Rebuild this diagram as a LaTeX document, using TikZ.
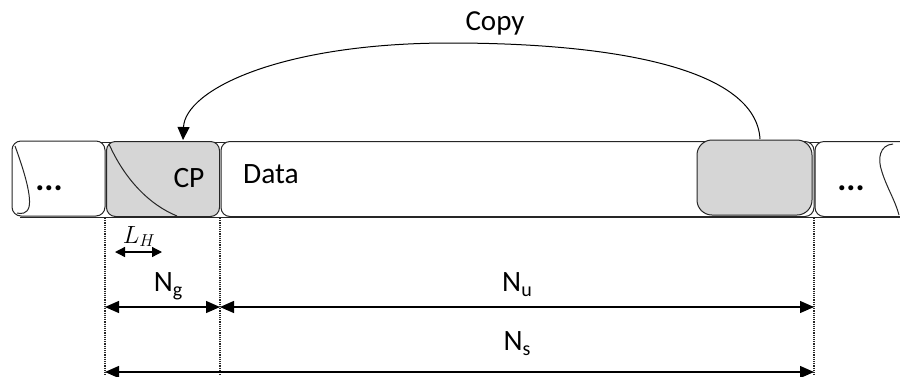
\documentclass[tikz,border=0pt]{standalone}
\usepackage{fontspec}
\setmainfont{Carlito}
\usetikzlibrary{arrows.meta}
\tikzset{
  cell/.style={draw=black!85, line width=1pt, rounded corners=9pt, inner sep=0pt, minimum height=75pt, fill=white},
  graycell/.style={cell, fill=black!16},
  dimarrow/.style={line width=1.3pt, {Triangle[length=14pt,width=12pt]}-{Triangle[length=14pt,width=12pt]}},
  smallarrow/.style={line width=1.3pt, {Triangle[length=10pt,width=10pt]}-{Triangle[length=10pt,width=10pt]}},
  guide/.style={densely dotted, line width=1.2pt, black!85},
  lbl/.style={font=\fontsize{29.5}{32}\selectfont, inner sep=0pt, anchor=base},
  dots/.style={lbl, font=\fontsize{34}{36}\selectfont\bfseries},
}
\newcommand{\subtxt}[1]{\raisebox{-5pt}{\fontsize{20}{20}\selectfont #1}}
\begin{document}
\begin{tikzpicture}[x=1pt,y=-1pt]
\useasboundingbox (0,0) rectangle (900,376);
% band lines
\draw[line width=1pt, black!85] (100,142) -- (900,142);
\draw[line width=1pt, black!85] (20,217) -- (900,217);
% cells
\node[cell, minimum width=93pt] (dl) at (58.5,178.5) {};
\node[graycell, minimum width=113pt] (cp) at (163,179) {};
\node[cell, minimum width=593pt] (data) at (517.5,179) {};
\node[cell, minimum width=96pt] (dr) at (863,179) {};
\node[graycell, minimum width=115pt, rounded corners=15pt] (rg) at (754.5,177.5) {};
% break curves and decay curve
\draw[line width=1pt, black!85] (15,146) .. controls (22,165) and (32,195) .. (29,207) .. controls (27,214) and (21,214) .. (17,213);
\draw[line width=1pt, black!85] (893,144) .. controls (880,145) and (877,158) .. (882,172) .. controls (887,188) and (895,200) .. (899,215);
\draw[line width=1pt, black!85] (109,144) .. controls (125,180) and (150,205) .. (177,216);
% texts in cells
\node[dots] (d1) at (49,190) {...};
\node[dots] (d2) at (851,190) {...};
\node[lbl] (cpt) at (189,187) {CP};
\node[lbl, anchor=base west] (datat) at (243,183) {Data};
% copy arc
\coordinate (src) at (760,139);
\coordinate (dst) at (183,140);
\draw[line width=1pt, -{Triangle[length=13pt,width=12pt]}] (src) .. controls (756,70) and (620,43) .. (450,43) .. controls (280,43) and (185,90) .. (dst);
\node[lbl, font=\fontsize{29}{32}\selectfont] (copyt) at (495,30) {Copy};
% guides
\coordinate (ga) at (105,218); \coordinate (gat) at (105,376);
\coordinate (gb) at (220,218); \coordinate (gbt) at (220,376);
\coordinate (gc) at (814,218); \coordinate (gct) at (814,376);
\draw[guide] (ga) -- (gat);
\draw[guide] (gb) -- (gbt);
\draw[guide] (gc) -- (gct);
% dimension arrows
\coordinate (lh1) at (115,252); \coordinate (lh2) at (162,252);
\draw[smallarrow] (lh1) -- (lh2);
\node[inner sep=0pt, anchor=base, font=\fontsize{23}{26}\selectfont] (lht) at (139,243) {$L_H$};
\coordinate (ng1) at (105,307); \coordinate (ng2) at (220,307);
\coordinate (nu2) at (814,307);
\draw[dimarrow] (ng1) -- (ng2);
\draw[dimarrow] (ng2) -- (nu2);
\node[lbl] (ngt) at (168,291) {N\subtxt{g}};
\node[lbl] (nut) at (517,291) {N\subtxt{u}};
\coordinate (ns1) at (105,372); \coordinate (ns2) at (814,372);
\draw[dimarrow] (ns1) -- (ns2);
\node[lbl] (nst) at (517,350) {N\subtxt{s}};
\end{tikzpicture}
\end{document}
